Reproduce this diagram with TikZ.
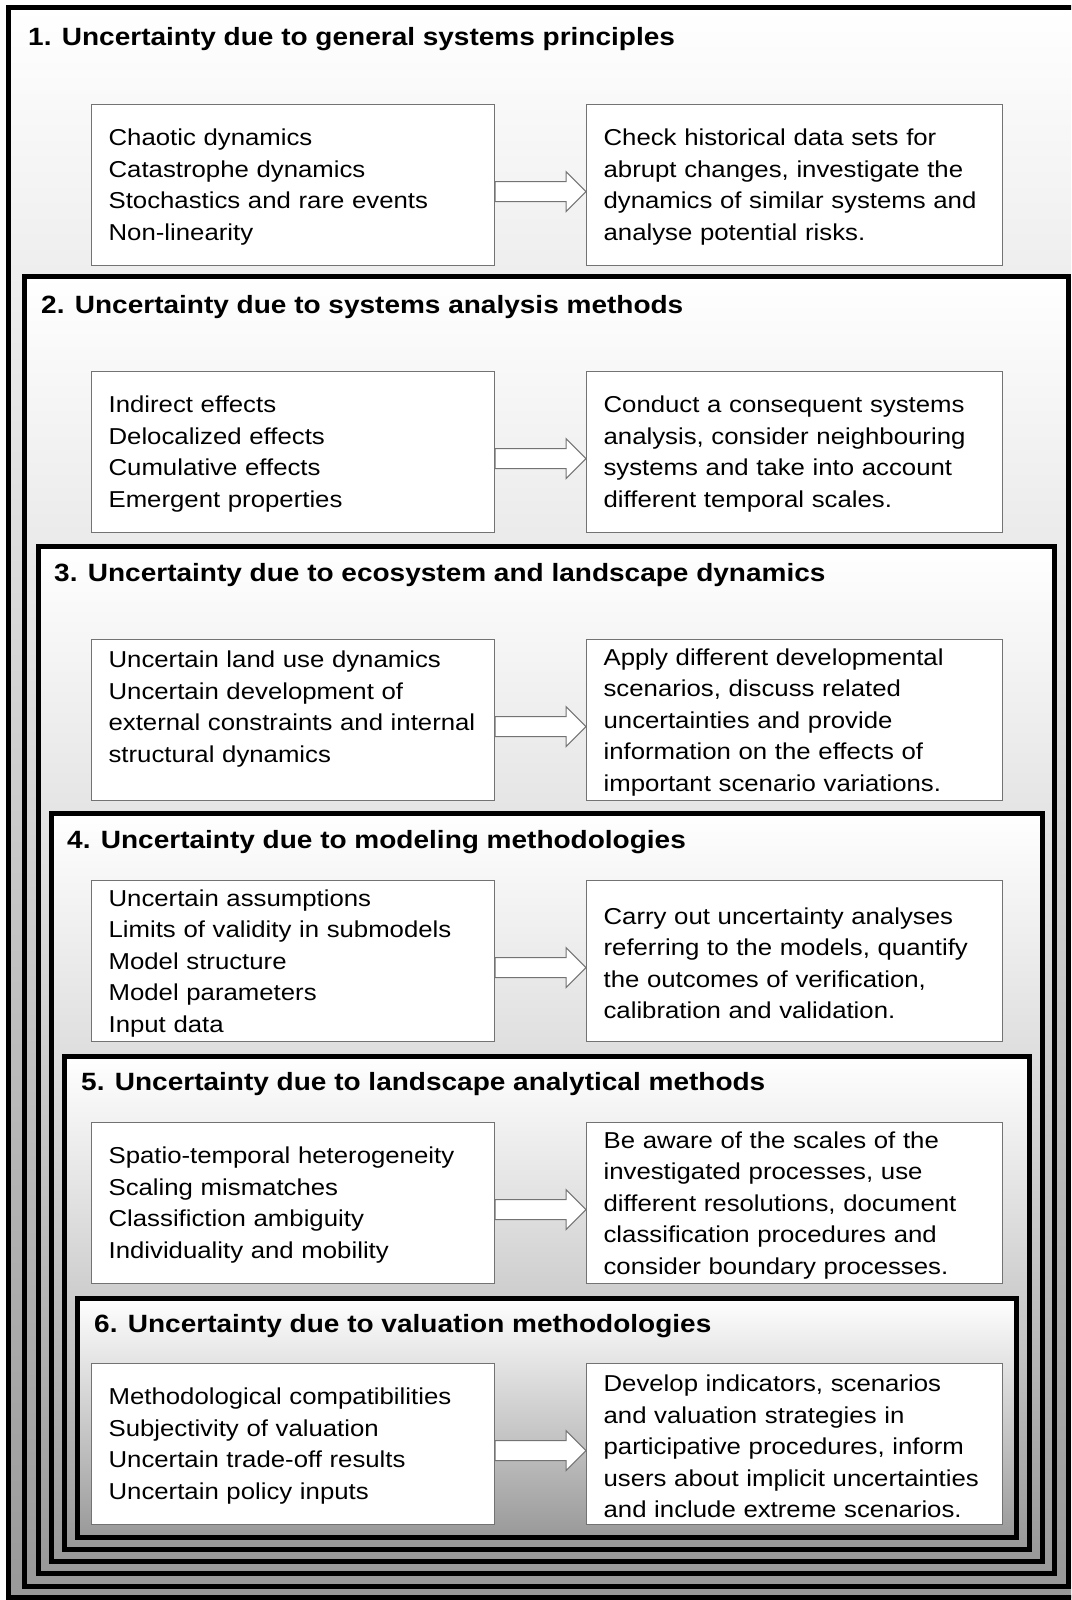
\documentclass[tikz,border=0pt]{standalone}
\usepackage{fontspec}
\setmainfont[FakeStretch=1.12]{Liberation Sans}
\usetikzlibrary{calc}

\tikzset{
  layerframe/.style={draw=black,line width=5pt,top color=white,bottom color=black!40},
  layertitle/.style={anchor=base west,inner sep=0pt,font=\bfseries\fontsize{25}{30}\selectfont},
  causebox/.style={draw=black!55,line width=1.2pt,fill=white,anchor=north west,align=left,
    text width=369pt,inner xsep=17pt,inner ysep=0pt,minimum height=161pt,
    font=\fontsize{23}{31.5}\selectfont,execute at begin node={\rule{0pt}{21pt}}},
  measurebox/.style={causebox,text width=382pt},
  blockarrow/.style={draw=black!55,line width=1pt,fill=white,line join=miter}
}

\begin{document}
\begin{tikzpicture}[x=1pt,y=-1pt]
  \useasboundingbox (0,0) rectangle (1071,1600);
  \fill[white] (0,0) rectangle (1071,1600);
  \clip (0,0) rectangle (1071,1600);
  % Nested frames, outermost first
  \foreach \l/\t/\r/\b in {8/8/1078/1597,24/276/1068/1586,38/546/1054/1573,
                           51/813/1042/1561,64/1056/1029/1549,77/1298/1016/1537}{
    \draw[layerframe] (\l,\t) rectangle (\r,\b);
  }
  % Frame titles
  \node[layertitle] (t1) at (28,46) {1. Uncertainty due to general systems principles};
  \node[layertitle] (t2) at (41,313) {2. Uncertainty due to systems analysis methods};
  \node[layertitle] (t3) at (54,581) {3. Uncertainty due to ecosystem and landscape dynamics};
  \node[layertitle] (t4) at (67,848) {4. Uncertainty due to modeling methodologies};
  \node[layertitle] (t5) at (81,1090) {5. Uncertainty due to landscape analytical methods};
  \node[layertitle] (t6) at (94,1332) {6. Uncertainty due to valuation methodologies};
  % Sources of uncertainty (left) and measures (right)
  \node[causebox] (c1) at (91,104) {Chaotic dynamics\\Catastrophe dynamics\\Stochastics and rare events\\Non-linearity};
  \node[measurebox] (m1) at (586,104) {Check historical data sets for\\abrupt changes, investigate the\\dynamics of similar systems and\\analyse potential risks.};
  \node[causebox] (c2) at (91,371) {Indirect effects\\Delocalized effects\\Cumulative effects\\Emergent properties};
  \node[measurebox] (m2) at (586,371) {Conduct a consequent systems\\analysis, consider neighbouring\\systems and take into account\\different temporal scales.};
  \node[causebox] (c3) at (91,639) {Uncertain land use dynamics\\Uncertain development of\\external constraints and internal\\structural dynamics\\\mbox{}};
  \node[measurebox] (m3) at (586,639) {Apply different developmental\\scenarios, discuss related\\uncertainties and provide\\information on the effects of\\important scenario variations.};
  \node[causebox] (c4) at (91,880) {Uncertain assumptions\\Limits of validity in submodels\\Model structure\\Model parameters\\Input data};
  \node[measurebox] (m4) at (586,880) {Carry out uncertainty analyses\\referring to the models, quantify\\the outcomes of verification,\\calibration and validation.};
  \node[causebox] (c5) at (91,1122) {Spatio-temporal heterogeneity\\Scaling mismatches\\Classifiction ambiguity\\Individuality and mobility};
  \node[measurebox] (m5) at (586,1122) {Be aware of the scales of the\\investigated processes, use\\different resolutions, document\\classification procedures and\\consider boundary processes.};
  \node[causebox] (c6) at (91,1363) {Methodological compatibilities\\Subjectivity of valuation\\Uncertain trade-off results\\Uncertain policy inputs};
  \node[measurebox] (m6) at (586,1363) {Develop indicators, scenarios\\and valuation strategies in\\participative procedures, inform\\users about implicit uncertainties\\and include extreme scenarios.};
  % Block arrows
  \foreach \i in {1,...,6}{
    \draw[blockarrow] let \p1=(c\i.east),\p2=(m\i.west) in
      (\x1,\y1+3.5pt) -- (\x2-20pt,\y1+3.5pt) -- (\x2-20pt,\y1+13.5pt) -- (\x2,\y1-6.5pt)
      -- (\x2-20pt,\y1-26.5pt) -- (\x2-20pt,\y1-16.5pt) -- (\x1,\y1-16.5pt) -- cycle;
  }
\end{tikzpicture}
\end{document}
